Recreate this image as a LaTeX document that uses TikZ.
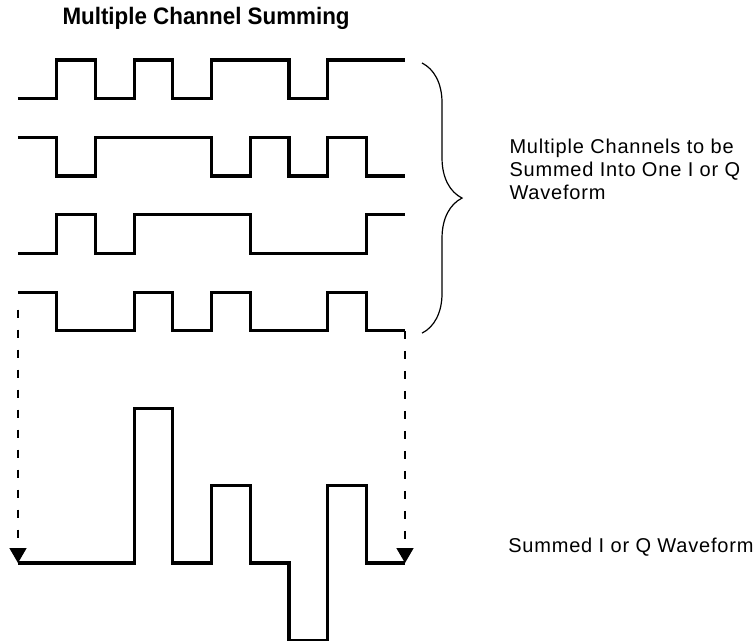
\documentclass[tikz,border=0pt]{standalone}
\usepackage{fontspec}
\setmainfont{Liberation Sans}
\newfontfamily\notefont[LetterSpace=4]{Liberation Sans}
\usepackage{tikz}
\usetikzlibrary{arrows.meta,decorations.pathreplacing}

\begin{document}
\begin{tikzpicture}[x=19.35pt, y=19.35pt,
    >={Triangle[width=8.5pt,length=7.5pt]},
    wave/.style={line width=1.6pt},
    guide/.style={line width=0.8pt, dash pattern=on 4pt off 6pt},
    note/.style={font=\notefont\fontsize{10}{11.5}\selectfont, inner sep=0pt, align=left}]
    \useasboundingbox (-0.4651,-1.9897) rectangle (19.0181,14.5478);

    % 标题
    \node[anchor=west, inner sep=0pt, font=\fontsize{11.9}{14}\selectfont\bfseries] (title)
        at (1.14,14.06) {\scalebox{0.94}[1]{Multiple Channel Summing}};

    % 四路输入波形
    \draw[wave] (0,12) -| (1,13) -| (2,12) -| (3,13) -| (4,12) -| (5,13) -| (7,12) -| (8,13) -- (10,13);
    \draw[wave] (0,11) -| (1,10) -| (2,11) -| (5,10) -| (6,11) -| (7,10) -| (8,11) -| (9,10) -- (10,10);
    \draw[wave] (0,8) -| (1,9) -| (2,8) -| (3,9) -| (6,8) -| (9,9) -- (10,9);
    \draw[wave] (0,7) -| (1,6) -| (3,7) -| (4,6) -| (5,7) -| (6,6) -| (8,7) -| (9,6) -- (10,6);

    % 大括号及说明
    \draw[line width=0.6pt, decorate, decoration={brace, amplitude=20pt}]
        (10.44,12.92) -- (10.44,5.94);
    \node[note, anchor=west] (chanlabel) at (12.69,10.18)
        {Multiple Channels to be\\Summed Into One I or Q\\Waveform};

    % 叠加后的波形
    \draw[wave] (0,0) -| (3,4) -| (4,0) -| (5,2) -| (6,0) -| (7,-2) -| (8,2) -| (9,0) -- (10,0);
    \node[note, anchor=west] (sumlabel) at (12.66,0.42) {Summed I or Q Waveform};

    % 虚线箭头
    \coordinate (c4in) at (0,6.55);
    \coordinate (c4out) at (10,6);
    \coordinate (sumin) at (0,0);
    \coordinate (sumout) at (10,0);
    \draw[guide, ->] (c4in) -- (sumin);
    \draw[guide, ->] (c4out) -- (sumout);
\end{tikzpicture}
\end{document}
